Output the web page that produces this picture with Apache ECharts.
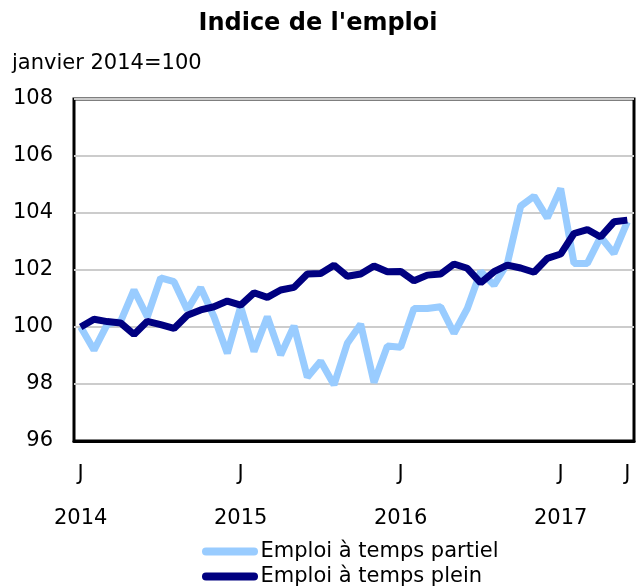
<!DOCTYPE html>
<html>
<head>
<meta charset="utf-8">
<script src="https://cdn.jsdelivr.net/npm/echarts@6/dist/echarts.min.js"></script>
<style>
  html, body { margin: 0; padding: 0; background: #fff; }
  #chart { width: 636px; height: 588px; }
</style>
</head>
<body>
<div id="chart"></div>
<script>
  // janvier 2014 .. juin 2017
  const years = ['2014', '2015', '2016', '2017']
  const monthInitials = ['J', 'F', 'M', 'A', 'M', 'J', 'J', 'A', 'S', 'O', 'N', 'D']
  const monthCount = 42

  const tempsPartiel = [
    100.0, 99.19, 100.1, 100.2, 101.3, 100.36, 101.72, 101.59, 100.6, 101.38, 100.36, 99.08,
    100.71, 99.14, 100.36, 99.02, 100.04, 98.24, 98.8, 97.97, 99.43, 100.1, 98.05, 99.33,
    99.29, 100.65, 100.65, 100.71, 99.78, 100.65, 101.95, 101.47, 102.23, 104.24, 104.59, 103.83,
    104.86, 102.23, 102.23, 103.16, 102.58, 103.69
  ]
  const tempsPlein = [
    100.0, 100.27, 100.19, 100.14, 99.74, 100.2, 100.08, 99.95, 100.41, 100.6, 100.71, 100.91,
    100.77, 101.2, 101.04, 101.3, 101.39, 101.86, 101.88, 102.17, 101.78, 101.86, 102.14, 101.94,
    101.95, 101.62, 101.82, 101.86, 102.21, 102.06, 101.55, 101.94, 102.17, 102.07, 101.92, 102.41,
    102.56, 103.28, 103.42, 103.16, 103.69, 103.75
  ]

  let categories = []
  for (let i = 0; i < monthCount; i++) {
    categories.push(years[Math.floor(i / 12)] + '-' + monthInitials[i % 12] + (i % 12 + 1))
  }

  const font = 'Verdana, "DejaVu Sans", sans-serif'
  let dom = echarts.init(document.getElementById('chart'))
  let option = {
    animation: false,
    title: [
      {
        text: "Indice de l'emploi",
        left: 'center',
        top: 12,
        padding: 0,
        textStyle: { fontFamily: font, fontSize: 24, fontWeight: 'bold', color: '#000' }
      },
      {
        text: 'janvier 2014=100',
        left: 12,
        top: 53,
        padding: 0,
        textStyle: { fontFamily: font, fontSize: 21, fontWeight: 'normal', color: '#000' }
      }
    ],
    legend: {
      orient: 'vertical',
      left: 202,
      top: 541,
      padding: 0,
      itemGap: 4,
      itemWidth: 57,
      itemHeight: 8,
      icon: 'path://M4,0 H52 A4,4 0 0 1 52,8 H4 A4,4 0 0 1 4,0 Z',
      textStyle: { fontFamily: font, fontSize: 21, color: '#000', padding: [0, 0, 0, -3] },
      data: ['Emploi à temps partiel', 'Emploi à temps plein']
    },
    grid: {
      left: 74,
      right: 2,
      top: 99,
      bottom: 147,
      show: true,
      borderColor: '#000',
      borderWidth: 3
    },
    xAxis: {
      type: 'category',
      data: categories,
      boundaryGap: true,
      axisLine: { lineStyle: { color: '#000', width: 3 } },
      axisTick: { inside: true, length: 6, interval: 0, lineStyle: { color: '#000', width: 2 } },
      axisLabel: {
        interval: (index) => index % 12 === 0 || index === monthCount - 1,
        margin: 23,
        lineHeight: 22,
        fontFamily: font,
        fontSize: 21,
        color: '#000',
        formatter: (value, index) => {
          let m = monthInitials[index % 12]
          if (index % 12 === 0) return m + '\n\n' + years[index / 12]
          return m
        }
      },
      splitLine: { show: false }
    },
    yAxis: {
      type: 'value',
      min: 96,
      max: 108,
      interval: 2,
      axisLine: { show: false },
      axisTick: { show: false },
      axisLabel: { margin: 21, fontFamily: font, fontSize: 21, color: '#000' },
      splitLine: { lineStyle: { color: '#cccccc', width: 2 } }
    },
    series: [
      {
        name: 'Emploi à temps partiel',
        type: 'line',
        data: tempsPartiel,
        symbol: 'none',
        color: '#99ccff',
        lineStyle: { color: '#99ccff', width: 7 }
      },
      {
        name: 'Emploi à temps plein',
        type: 'line',
        data: tempsPlein,
        symbol: 'none',
        color: '#000080',
        lineStyle: { color: '#000080', width: 7 }
      }
    ]
  }
  dom.setOption(option)
  window.addEventListener('resize', dom.resize)
</script>
</body>
</html>
